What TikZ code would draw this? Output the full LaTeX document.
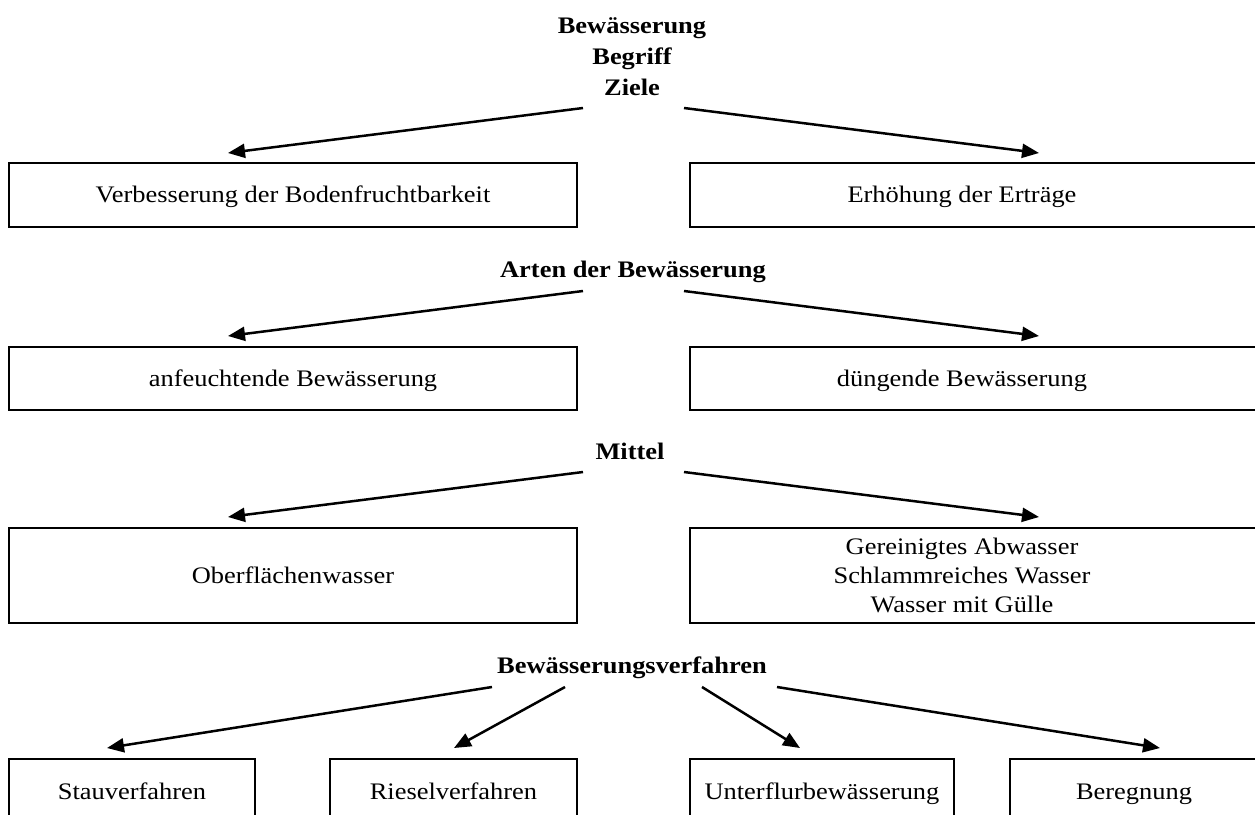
\documentclass[tikz,border=0pt]{standalone}
\usepackage{fontspec}
\setmainfont{Liberation Serif}[FakeStretch=1.115]
\usetikzlibrary{arrows.meta}
\begin{document}
\begin{tikzpicture}[x=1pt,y=-1pt,
  every node/.style={inner sep=0pt,outer sep=0pt},
  box/.style={draw,line width=2.9pt},
  lbl/.style={font=\fontsize{23.7}{29}\selectfont,text height=15.7pt,text depth=0pt},
  mlbl/.style={font=\fontsize{23.7}{29}\selectfont,align=center},
  hdr/.style={font=\fontsize{23.7}{30}\selectfont\bfseries,text height=15.7pt,text depth=0pt},
  arr/.style={line width=2.5pt,-{Triangle[length=17pt,width=14pt]}}]
\fill[white] (0,0) rectangle (1255,814);
\clip (0,0) rectangle (1255,814);
% title
\node[font=\fontsize{23.7}{31}\selectfont\bfseries,align=center,anchor=north] (title) at (632,18) {Bewässerung\\Begriff\\Ziele};
% row 1
\node[box,minimum width=568pt,minimum height=64pt] (b11) at (293,195) {};
\node[box,minimum width=572pt,minimum height=64pt] (b12) at (976,195) {};
\node[lbl] (t11) at (b11.center) {Verbesserung der Bodenfruchtbarkeit};
\node[lbl] (t12) at ([xshift=-14pt]b12.center) {Erhöhung der Erträge};
\coordinate (s11) at (583,108); \coordinate (e11) at (228,153);
\coordinate (s12) at (684,108); \coordinate (e12) at (1039,153);
\draw[arr] (s11) -- (e11);
\draw[arr] (s12) -- (e12);
% row 2
\node[hdr] (h2) at (633,270) {Arten der Bewässerung};
\node[box,minimum width=568pt,minimum height=63pt] (b21) at (293,378.5) {};
\node[box,minimum width=572pt,minimum height=63pt] (b22) at (976,378.5) {};
\node[lbl] (t21) at (b21.center) {anfeuchtende Bewässerung};
\node[lbl] (t22) at ([xshift=-14pt]b22.center) {düngende Bewässerung};
\coordinate (s21) at (583,291); \coordinate (e21) at (228,336);
\coordinate (s22) at (684,291); \coordinate (e22) at (1039,336);
\draw[arr] (s21) -- (e21);
\draw[arr] (s22) -- (e22);
% row 3
\node[hdr] (h3) at (630,452) {Mittel};
\node[box,minimum width=568pt,minimum height=95pt] (b31) at (293,575.5) {};
\node[box,minimum width=572pt,minimum height=95pt] (b32) at (976,575.5) {};
\node[lbl] (t31) at (b31.center) {Oberflächenwasser};
\node[mlbl] (t32) at ([xshift=-14pt]b32.center) {Gereinigtes Abwasser\\Schlammreiches Wasser\\Wasser mit Gülle};
\coordinate (s31) at (583,472); \coordinate (e31) at (228,517);
\coordinate (s32) at (684,472); \coordinate (e32) at (1039,517);
\draw[arr] (s31) -- (e31);
\draw[arr] (s32) -- (e32);
% row 4
\node[hdr] (h4) at (632,666) {Bewässerungsverfahren};
\node[box,minimum width=246pt,minimum height=66pt] (b41) at (132,792) {};
\node[box,minimum width=247pt,minimum height=66pt] (b42) at (453.5,792) {};
\node[box,minimum width=264pt,minimum height=66pt] (b43) at (822,792) {};
\node[box,minimum width=248pt,minimum height=66pt] (b44) at (1134,792) {};
\node[lbl] (t41) at (b41.center) {Stauverfahren};
\node[lbl] (t42) at (b42.center) {Rieselverfahren};
\node[lbl] (t43) at (b43.center) {Unterflurbewässerung};
\node[lbl] (t44) at (b44.center) {Beregnung};
\coordinate (s41) at (492,687); \coordinate (e41) at (107,748);
\coordinate (s42) at (565,687); \coordinate (e42) at (454,748);
\coordinate (s43) at (702,687); \coordinate (e43) at (800,748);
\coordinate (s44) at (777,687); \coordinate (e44) at (1160,748);
\draw[arr] (s41) -- (e41);
\draw[arr] (s42) -- (e42);
\draw[arr] (s43) -- (e43);
\draw[arr] (s44) -- (e44);
\end{tikzpicture}
\end{document}
